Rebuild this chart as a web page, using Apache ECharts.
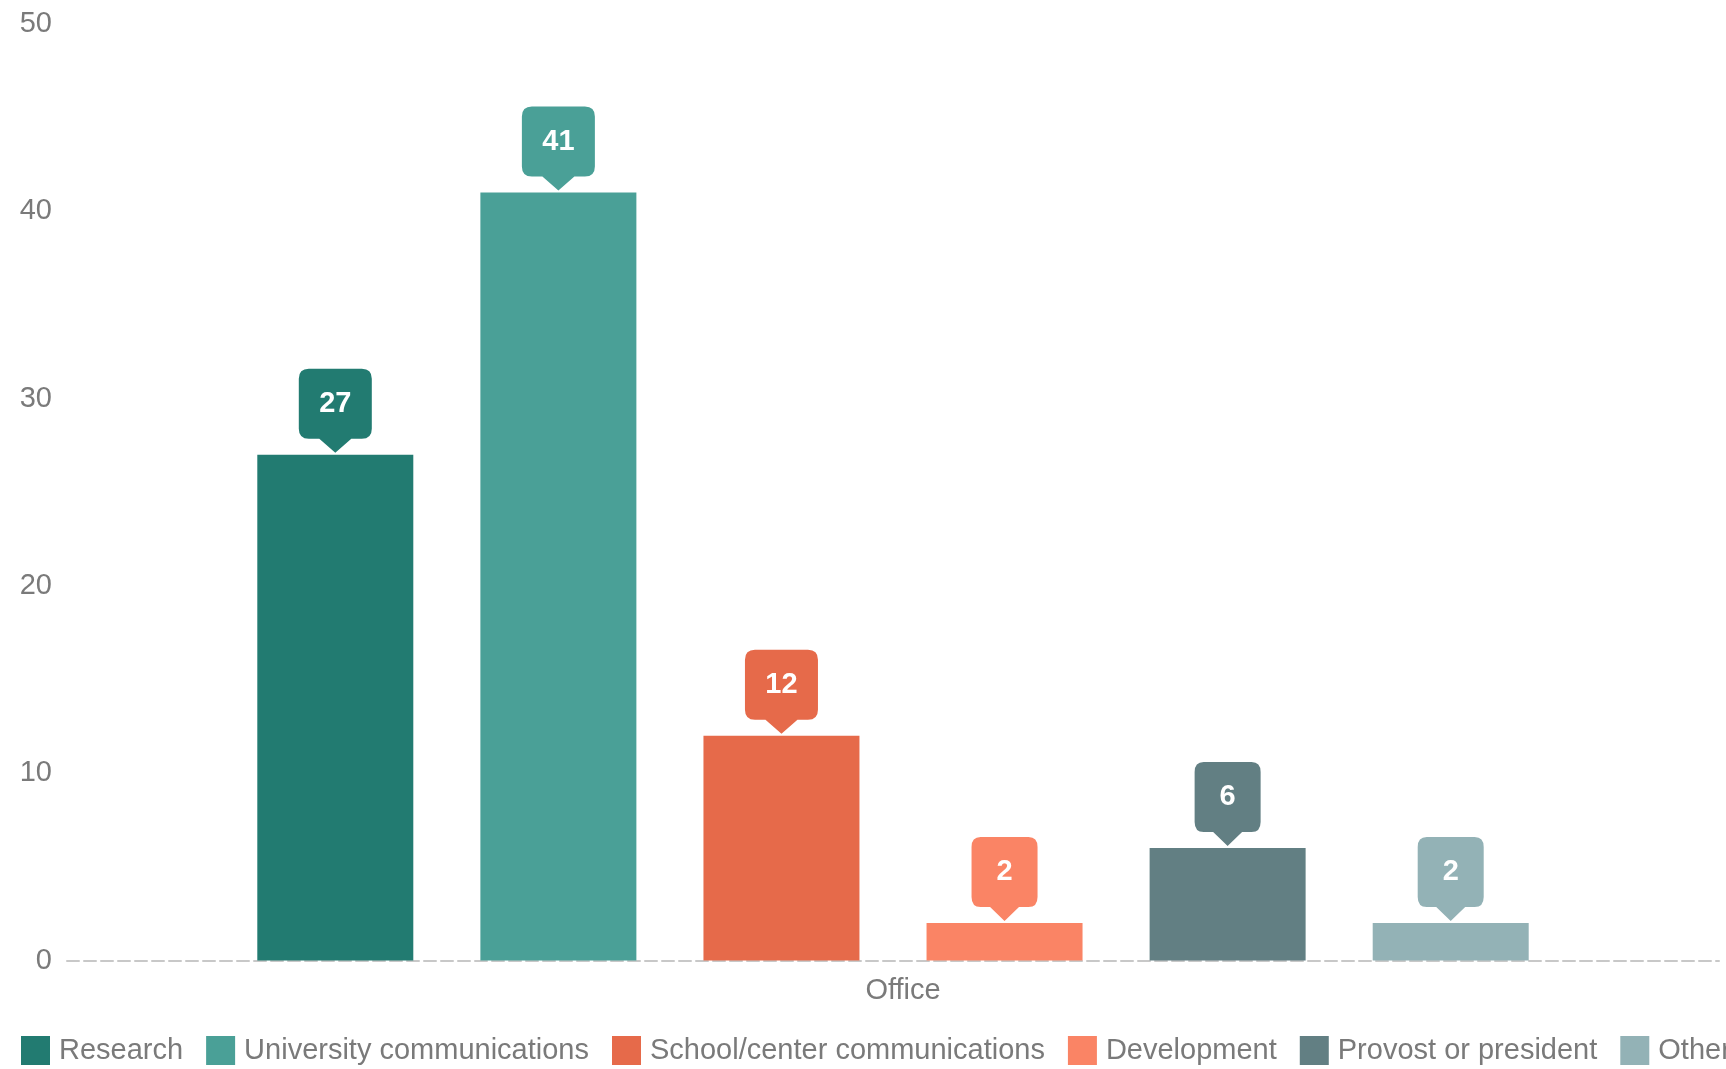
<!DOCTYPE html>
<html>
<head>
<meta charset="utf-8">
<title>Office</title>
<script src="https://cdn.jsdelivr.net/npm/echarts@6/dist/echarts.min.js"></script>
<style>
  html, body { margin: 0; padding: 0; background: #ffffff; }
  #chart { width: 1726px; height: 1069px; }
</style>
</head>
<body>
<div id="chart"></div>
<script>
// Chart data
const categories = ['Office'];
const seriesNames = [
  'Research',
  'University communications',
  'School/center communications',
  'Development',
  'Provost or president',
  'Other'
];
const seriesValues = [27, 41, 12, 2, 6, 2];
const seriesColors = ['#227b71', '#4aa097', '#e66a4a', '#fa8465', '#627f83', '#93b2b6'];
const yTicks = { min: 0, max: 50, interval: 10 };

const FONT = '"Liberation Sans", Arial, Helvetica, sans-serif';

// Callout bubble: rounded box with a pointer at the bottom centre
const bubblePath = 'path://M10,0 H63 Q73,0 73,10 V60 Q73,70 63,70 H52.5 L36.5,84 L20.5,70 H10 Q0,70 0,60 V10 Q0,0 10,0 Z';

const series = seriesNames.map(function (name, i) {
  const v = seriesValues[i];
  return {
    name: name,
    type: 'bar',
    data: [v],
    barWidth: 156,
    barGap: '43%',
    itemStyle: { color: seriesColors[i] },
    emphasis: { disabled: true },
    markPoint: {
      symbol: bubblePath,
      symbolSize: [String(v).length > 1 ? 73 : 66, 84],
      symbolOffset: [0, -44],
      itemStyle: { color: seriesColors[i] },
      label: {
        show: true,
        position: 'inside',
        offset: [0, -7],
        color: '#ffffff',
        fontWeight: 'bold',
        fontSize: 29,
        fontFamily: FONT,
        formatter: '{c}'
      },
      emphasis: { disabled: true },
      data: [{ coord: [categories[0], v], value: v }]
    }
  };
});

const chart = echarts.init(document.getElementById('chart'), null, { renderer: 'canvas' });
chart.setOption({
  animation: false,
  backgroundColor: '#ffffff',
  grid: {
    left: 67,
    right: 7,
    top: 24,
    bottom: 108.5,
    containLabel: false,
    outerBoundsMode: 'none'
  },
  legend: {
    data: seriesNames,
    left: 21,
    top: 1036,
    width: 4000,
    padding: 0,
    itemWidth: 29,
    itemHeight: 29,
    itemGap: 23,
    icon: 'rect',
    selectedMode: false,
    textStyle: {
      fontSize: 29,
      color: '#7a7a7a',
      fontFamily: FONT,
      padding: [0, 0, 0, 4]
    }
  },
  xAxis: {
    type: 'category',
    data: categories,
    axisTick: { show: false },
    axisLine: {
      show: true,
      lineStyle: { color: '#c8c8c8', width: 2, type: [12, 5] }
    },
    axisLabel: {
      fontSize: 29,
      color: '#7a7a7a',
      fontFamily: FONT,
      margin: 16,
      padding: [0, 0, 0, 20]
    },
    splitLine: { show: false }
  },
  yAxis: {
    type: 'value',
    min: yTicks.min,
    max: yTicks.max,
    interval: yTicks.interval,
    axisLine: { show: false },
    axisTick: { show: false },
    splitLine: { show: false },
    axisLabel: {
      fontSize: 29,
      color: '#7a7a7a',
      fontFamily: FONT,
      margin: 15,
      padding: [4, 0, 0, 0]
    }
  },
  series: series
});
</script>
</body>
</html>
